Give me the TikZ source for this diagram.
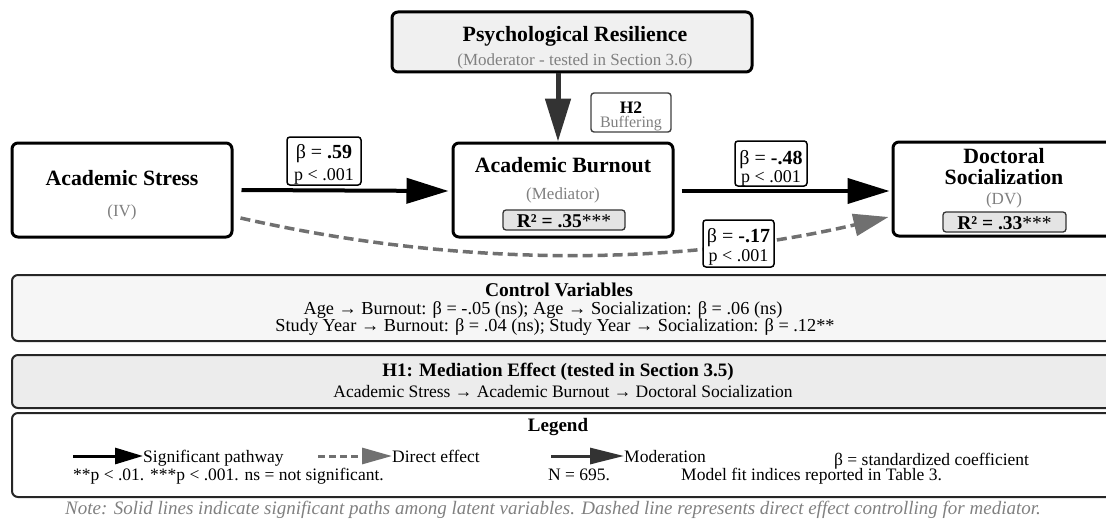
\documentclass[tikz,border=0pt]{standalone}
\usepackage{fontspec}
\setmainfont{Liberation Serif}
\usetikzlibrary{arrows.meta,calc}
\definecolor{subgray}{HTML}{808080}
\definecolor{dashgray}{HTML}{707070}
\definecolor{modgray}{HTML}{333333}
\definecolor{ctrlfill}{HTML}{F6F6F6}
\definecolor{hfill}{HTML}{ECECEC}
\definecolor{psyfill}{HTML}{F0F0F0}
\definecolor{rfill}{HTML}{E4E4E4}
\newcommand{\fs}[1]{\fontsize{#1}{#1}\selectfont}
\begin{document}
\begin{tikzpicture}[x=1pt,y=-1pt,
  varbox/.style={draw=black,line width=3pt,rounded corners=6pt,fill=white,inner sep=0pt},
  lblbox/.style={draw=black,line width=1.5pt,rounded corners=3pt,fill=white,inner sep=0pt},
  rbox/.style={draw=black!80,line width=1.3pt,rounded corners=3pt,fill=rfill,inner sep=0pt},
  panel/.style={draw=black!85,line width=2pt,rounded corners=6pt,inner sep=0pt},
  ttl/.style={font=\fs{21.8}\bfseries,inner sep=0pt,anchor=base},
  sub/.style={font=\fs{17},text=subgray,inner sep=0pt,anchor=base},
  bl/.style={font=\fs{20},inner sep=0pt,anchor=base},
  pl/.style={font=\fs{18},inner sep=0pt,anchor=base},
  rt/.style={font=\fs{19.5},inner sep=0pt,anchor=base},
  ptl/.style={font=\fs{19.5}\bfseries,inner sep=0pt,anchor=base},
  ptx/.style={font=\fs{17.5},inner sep=0pt,anchor=base},
  legtxt/.style={font=\fs{17.5},inner sep=0pt,anchor=base west},
  sigarrow/.style={line width=4pt,-{Triangle[length=42pt,width=25pt]}},
  modarrow/.style={draw=modgray,line width=5pt,-{Triangle[length=43pt,width=25pt]}},
  dasharrow/.style={draw=dashgray,line width=3.5pt,dash pattern=on 10pt off 5pt,-{Triangle[length=35pt,width=22pt]}},
]
\clip (0,0) rectangle (1106,519);
\useasboundingbox (0,0) rectangle (1106,519);

% Moderator
\node[varbox,fill=psyfill,minimum width=360pt,minimum height=60pt] (psych) at (572,42) {};
\node[ttl] (psychT) at (575,42) {Psychological Resilience};
\node[sub] (psychS) at (575,65.5) {(Moderator - tested in Section 3.6)};

% H2
\node[draw=black!75,line width=1.4pt,rounded corners=3pt,fill=white,inner sep=0pt,minimum width=80pt,minimum height=39pt] (h2) at (631,112.5) {};
\node[font=\fs{17.5}\bfseries,inner sep=0pt,anchor=base] (h2T) at (631,113.5) {H2};
\node[font=\fs{16},text=subgray,inner sep=0pt,anchor=base] (h2S) at (631,128) {Buffering};

% Variables
\node[varbox,minimum width=220pt,minimum height=94pt] (stress) at (122,190) {};
\node[ttl] (stressT) at (122,185) {Academic Stress};
\node[sub] (stressS) at (122,216) {(IV)};

\node[varbox,minimum width=220pt,minimum height=94pt] (burn) at (563,190) {};
\node[ttl] (burnT) at (563,172) {Academic Burnout};
\node[sub] (burnS) at (563,199) {(Mediator)};
\node[rbox,minimum width=122pt,minimum height=20pt] (burnR) at (564,220) {};
\node[rt] (burnRt) at (564,227) {\textbf{R² = .35}***};

\node[varbox,minimum width=222pt,minimum height=94pt] (doc) at (1004,189) {};
\node[ttl] (docT1) at (1004,163) {Doctoral};
\node[ttl] (docT2) at (1004,184.5) {Socialization};
\node[sub] (docS) at (1004,204) {(DV)};
\node[rbox,minimum width=123pt,minimum height=20pt] (docR) at (1004.5,222) {};
\node[rt] (docRt) at (1004.5,229) {\textbf{R² = .33}***};

% Paths
\coordinate (modx) at ([xshift=-5pt]burn.north);
\draw[modarrow] (psych.south -| modx) -- (modx);

\draw[sigarrow] ([xshift=8pt]stress.east) -- ([xshift=-3pt,yshift=-1pt]burn.west);
\draw[sigarrow] ([xshift=7pt,yshift=-1pt]burn.east) -- ([xshift=-2pt,yshift=-2pt]doc.west);

\coordinate (ds) at ($(stress.east)+(7,28)$);
\coordinate (de) at ($(doc.west)+(-3,28)$);
\draw[dasharrow] (ds) .. controls (456,267) and (673,267) .. (de);

% Coefficient labels
\node[lblbox,minimum width=74pt,minimum height=48pt] (l1) at (324,161) {};
\node[bl] (l1b) at (324,158) {β = \textbf{.59}};
\node[pl] (l1p) at (324,180.5) {p < .001};

\node[lblbox,minimum width=72pt,minimum height=45pt] (l2) at (771,163.5) {};
\node[bl] (l2b) at (771,164.5) {β = \textbf{-.48}};
\node[pl] (l2p) at (771,182) {p < .001};

\node[lblbox,minimum width=71pt,minimum height=47pt] (l3) at (738.5,243.5) {};
\node[bl] (l3b) at (738.5,242.5) {β = \textbf{-.17}};
\node[pl] (l3p) at (738.5,261) {p < .001};

% Control variables panel
\node[panel,fill=ctrlfill,minimum width=1100pt,minimum height=66pt] (ctrl) at (562,308) {};
\node[ptl] (ctrlT) at (559,296) {Control Variables};
\node[ptx,font=\fs{18.3}] (ctrl1) at (543,314) {Age → Burnout: β = -.05 (ns); Age → Socialization: β = .06 (ns)};
\node[ptx,font=\fs{18.3}] (ctrl2) at (555,331) {Study Year → Burnout: β = .04 (ns); Study Year → Socialization: β = .12**};

% H1 panel
\node[panel,fill=hfill,minimum width=1100pt,minimum height=53pt] (h1) at (562,381.5) {};
\node[ptl,font=\fs{19}\bfseries] (h1T) at (558,376) {H1: Mediation Effect (tested in Section 3.5)};
\node[ptx] (h1S) at (563,397.5) {Academic Stress → Academic Burnout → Doctoral Socialization};

% Legend panel
\node[panel,fill=white,minimum width=1100pt,minimum height=84pt] (leg) at (562,455) {};
\node[ptl,font=\fs{19}\bfseries] (legT) at (558,431) {Legend};

\node[legtxt] (lg1) at (143,462) {Significant pathway};
\coordinate (lg1s) at (73,456);
\draw[line width=3pt,-{Triangle[length=28pt,width=16pt]}] (lg1s) -- (lg1s -| lg1.west);

\node[legtxt] (lg2) at (392,462) {Direct effect};
\coordinate (lg2s) at (318,456);
\draw[draw=dashgray,line width=3pt,dash pattern=on 7pt off 4pt,-{Triangle[length=30pt,width=16pt]}] (lg2s) -- (lg2s -| lg2.west);

\node[legtxt] (lg3) at (624,462) {Moderation};
\coordinate (lg3s) at (551,456);
\draw[draw=modgray,line width=3pt,-{Triangle[length=34pt,width=16pt]}] (lg3s) -- (lg3s -| lg3.west);

\node[legtxt] (lg4) at (834,465) {β = standardized coefficient};
\node[legtxt] (lg5) at (73,480) {**p < .01. ***p < .001. ns = not significant.};
\node[legtxt] (lg6) at (548,480) {N = 695.};
\node[legtxt] (lg7) at (681,480) {Model fit indices reported in Table 3.};

% Note
\node[font=\fs{19}\itshape,text=subgray,inner sep=0pt,anchor=base] (note) at (553,514) {Note: Solid lines indicate significant paths among latent variables. Dashed line represents direct effect controlling for mediator.};
\end{tikzpicture}
\end{document}
